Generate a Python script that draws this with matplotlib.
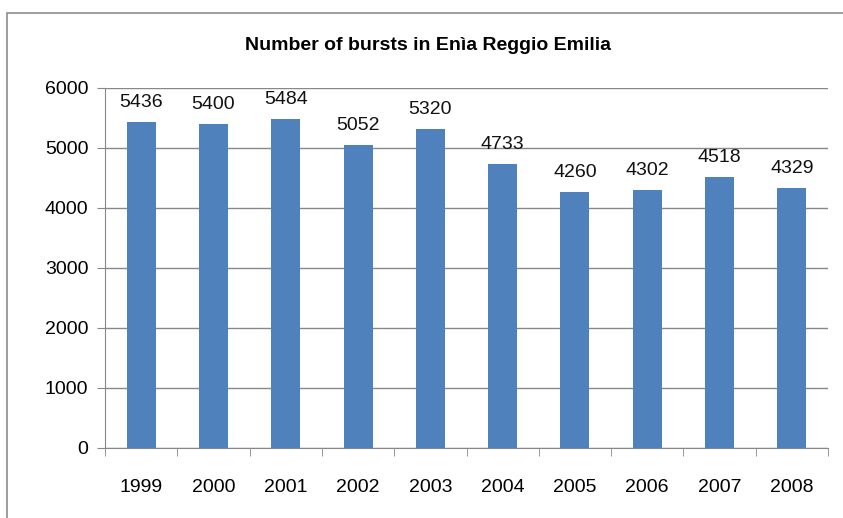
import matplotlib.pyplot as plt
from matplotlib.patches import Rectangle

years = ['1999', '2000', '2001', '2002', '2003', '2004', '2005', '2006', '2007', '2008']
bursts = [5436, 5400, 5484, 5052, 5320, 4733, 4260, 4302, 4518, 4329]
yticks = [0, 1000, 2000, 3000, 4000, 5000, 6000]

plt.rcParams['font.family'] = ['Liberation Sans', 'DejaVu Sans']

fig = plt.figure(figsize=(8.43, 5.18), dpi=100)
ax = fig.add_axes([105/843, 1 - 448/518, 723/843, 360/518])

# chart area border (runs off the right and bottom of the picture)
fig.patches.append(Rectangle((7/843, -0.1), 1.2, 1 - 13/518 + 0.1, transform=fig.transFigure,
                             fill=False, edgecolor='#8c8c8c', linewidth=1.2))

x = list(range(len(years)))
bars = ax.bar(x, bursts, width=0.4, color='#4F81BD', zorder=3)
for xi, v in zip(x, bursts):
    ax.annotate(str(v), (xi, v), xytext=(0, 8), textcoords='offset points',
                ha='center', va='bottom', fontsize=14, color='#111111')

ax.set_xlim(-0.5, len(years) - 0.5)
ax.set_ylim(0, 6000)
ax.set_yticks(yticks)
ax.set_xticks(x)
ax.set_xticklabels(years)
ax.set_xticks([i - 0.5 for i in range(len(years) + 1)], minor=True)
ax.grid(axis='y', color='#888888', linewidth=1, zorder=0)
for s in ['top', 'right']:
    ax.spines[s].set_visible(False)
ax.spines['left'].set_color('#888888')
ax.spines['bottom'].set_color('#888888')
ax.tick_params(axis='x', which='major', length=0, labelsize=14, pad=22)
ax.tick_params(axis='x', which='minor', length=6, color='#888888', direction='out')
ax.tick_params(axis='y', length=6, color='#888888', labelsize=14, pad=6)

fig.text(0.508, 1 - 45/518, 'Number of bursts in Enìa Reggio Emilia', ha='center', va='center',
         fontsize=14, fontweight='bold')

plt.savefig('out.png', dpi=100)
